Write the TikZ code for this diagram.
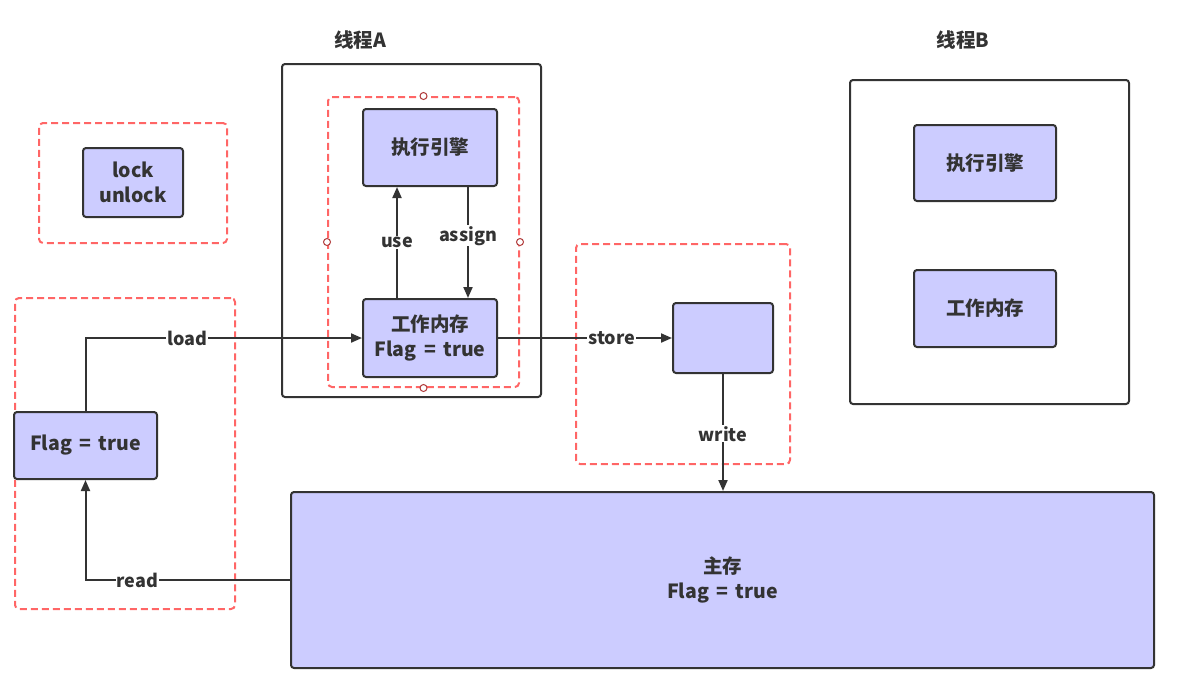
\documentclass[tikz,border=0pt]{standalone}
\usepackage{fontspec}
\setmainfont{Noto Sans CJK SC}
\usetikzlibrary{arrows.meta}
\definecolor{boxfill}{HTML}{CCCCFF}
\definecolor{ink}{HTML}{333333}
\definecolor{reddash}{HTML}{FF6666}
\definecolor{handle}{HTML}{B03A3A}
\newcommand\flagtxt{Flag\hspace{0.38em}=\hspace{0.38em}true}
\begin{document}
\begin{tikzpicture}[x=1pt,y=-1pt,
  every node/.style={text=ink, font=\fontsize{18}{22}\selectfont\bfseries},
  big/.style={font=\fontsize{19.5}{25}\selectfont\bfseries},
  box/.style={big, draw=ink, line width=2pt, fill=boxfill, rounded corners=3pt, align=center, inner sep=0pt},
  frame/.style={draw=ink, line width=2pt, rounded corners=3pt, inner sep=0pt},
  group/.style={draw=reddash, line width=2pt, dashed, dash pattern=on 7pt off 4pt, rounded corners=4pt, inner sep=0pt},
  conn/.style={draw=ink, line width=2pt, -{Triangle[length=11pt,width=9pt]}},
  lbl/.style={fill=white, inner sep=1pt},
  hnd/.style={circle, draw=handle, fill=white, line width=1pt, minimum size=7pt, inner sep=0pt}]
\useasboundingbox (0,0) rectangle (1204,681);
% titles
\node[big] (tA) at (360,40) {线程A};
\node[big] (tB) at (963,40) {线程B};
% frames
\node[frame, minimum width=259pt, minimum height=333pt] (thA) at (411.5,230.5) {};
\node[frame, minimum width=279pt, minimum height=324pt] (thB) at (989.5,242) {};
% red dashed groups
\node[group, minimum width=191pt, minimum height=290pt] (gA) at (423.5,242) {};
\node[group, minimum width=188pt, minimum height=120pt] (gL) at (133,183) {};
\node[group, minimum width=220pt, minimum height=311pt] (gF) at (125,453.5) {};
\node[group, minimum width=214pt, minimum height=220pt] (gS) at (683,354) {};
% handles
\node[hnd] (h1) at (gA.north) {};
\node[hnd] (h2) at (gA.south) {};
\node[hnd] (h3) at (gA.west) {};
\node[hnd] (h4) at (gA.east) {};
% boxes
\node[box, minimum width=134pt, minimum height=77pt] (engA) at (430,147.5) {执行引擎};
\node[box, minimum width=134pt, minimum height=78pt] (memA) at (430,338) {工作内存\\\flagtxt};
\node[box, minimum width=100pt, minimum height=69pt] (lock) at (133,182.5) {lock\\unlock};
\node[box, minimum width=143pt, minimum height=67pt] (flag) at (85.5,445.5) {\flagtxt};
\node[box, minimum width=863pt, minimum height=176pt] (main) at (722.5,580) {主存\\\flagtxt};
\node[box, minimum width=100pt, minimum height=70pt] (tmp) at (723,338) {};
\node[box, minimum width=142pt, minimum height=76pt] (engB) at (985,163) {执行引擎};
\node[box, minimum width=142pt, minimum height=77pt] (memB) at (985,308.5) {工作内存};
% connectors
\draw[conn] (flag.north) |- node[lbl, pos=0.684] {load} (memA.west);
\draw[conn] (main.west) -| node[lbl, pos=0.373] {read} (flag.south);
\draw[conn] ([xshift=-33pt]memA.north) -- node[lbl, pos=0.5] {use} ([xshift=-33pt]engA.south);
\draw[conn] ([xshift=38pt]engA.south) -- node[lbl, pos=0.44] {assign} ([xshift=38pt]memA.north);
\draw[conn] (memA.east) -- node[lbl, pos=0.653] {store} (tmp.west);
\draw[conn] (tmp.south) -- node[lbl, pos=0.51] {write} (tmp.south |- main.north);
\end{tikzpicture}
\end{document}
